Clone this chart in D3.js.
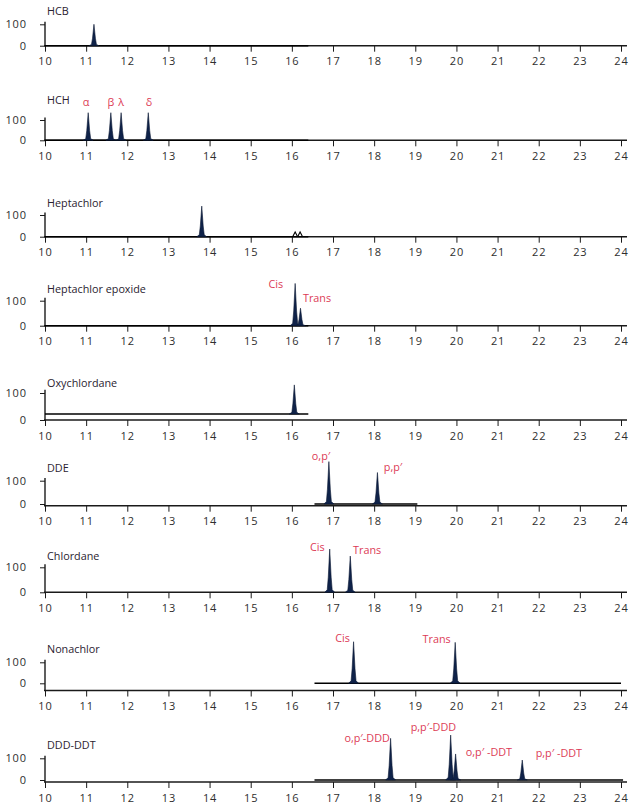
<!DOCTYPE html>
<html><head><meta charset="utf-8">
<script src="https://cdn.jsdelivr.net/npm/d3@7"></script>
<style>
html,body{margin:0;padding:0;background:#fff;}
svg{display:block;}
text{font-family:"Open Sans","Noto Sans",sans-serif;}
</style></head>
<body>
<script>
// ---------- DATA ----------
const panelNames = ["HCB","HCH","Heptachlor","Heptachlor epoxide","Oxychlordane","DDE","Chlordane","Nonachlor","DDD-DDT"];
const xTickLabels = [10,11,12,13,14,15,16,17,18,19,20,21,22,23,24];
const yTickLabels = [0,100];

// peaks: retention time (min), height (relative)
const hcbPeakRt = [11.19];           const hcbPeakH = [100];
const hchPeakRt = [11.05,11.6,11.85,12.51]; const hchPeakH = [136,136,136,136];
const heptPeakRt = [13.81];          const heptPeakH = [141];
const heptNoiseRt = [16.08,16.2];    const heptNoiseH = [22,22];
const epoxPeakRt = [16.08,16.21];    const epoxPeakH = [169,70];
const oxyPeakRt = [16.06];           const oxyPeakH = [130];
const ddePeakRt = [16.9,18.08];      const ddePeakH = [182,135];
const chlPeakRt = [16.92,17.42];     const chlPeakH = [173,145];
const nonaPeakRt = [17.5,19.97];     const nonaPeakH = [198,195];
const dddPeakRt = [18.4,19.86,19.98,21.6]; const dddPeakH = [192,207,120,92];

// baseline traces: [start rt, end rt, level]
const traceStart = [10,10,10,10,10,16.55,null,16.55,16.55];
const traceEnd   = [16.4,16.4,16.4,16.4,16.4,19.05,null,24.0,24.05];
const traceLevel = [0,0,0,0,22,0,null,0,0];

// peak annotations (text, rt, level)
const hchLabels  = ["α","β","λ","δ"];   const hchLabRt = [11.0,11.6,11.85,12.53]; const hchLabV = [189,189,189,189];
const epoxLabels = ["Cis","Trans"];     const epoxLabRt = [15.61,16.27]; const epoxLabV = [167,111];
const ddeLabels  = ["o,p′","p,p′"];     const ddeLabRt = [16.71,18.46]; const ddeLabV = [207,160];
const chlLabels  = ["Cis","Trans"];     const chlLabRt = [16.62,17.83]; const chlLabV = [181,169];
const nonaLabels = ["Cis","Trans"];     const nonaLabRt = [17.23,19.52]; const nonaLabV = [216,211];
const dddLabels  = ["o,p′-DDD","p,p′-DDD","o,p′ -DDT","p,p′ -DDT"]; const dddLabRt = [17.83,19.44,20.79,22.49]; const dddLabV = [194,244,126,124];

const peakRt = [hcbPeakRt,hchPeakRt,heptPeakRt,epoxPeakRt,oxyPeakRt,ddePeakRt,chlPeakRt,nonaPeakRt,dddPeakRt];
const peakH  = [hcbPeakH,hchPeakH,heptPeakH,epoxPeakH,oxyPeakH,ddePeakH,chlPeakH,nonaPeakH,dddPeakH];
const labText = [[],hchLabels,[],epoxLabels,[],ddeLabels,chlLabels,nonaLabels,dddLabels];
const labRt   = [[],hchLabRt,[],epoxLabRt,[],ddeLabRt,chlLabRt,nonaLabRt,dddLabRt];
const labV    = [[],hchLabV,[],epoxLabV,[],ddeLabV,chlLabV,nonaLabV,dddLabV];

// ---------- LAYOUT ----------
const W = 634, H = 808;
const yZero = [45.7,140.3,236.7,325.7,420,504,592.3,683.3,780];
const yHund = [24.3,120,215,300.7,393,480.7,567.3,662.3,758.3];
const axisY = [45.7,140.3,236.7,325.7,420,505.7,592.3,690.5,782];
const titleY = [11,100,203,289,383,468,556,649,745];
const labAnchorFix = [[],["middle","middle","middle","middle"],[],["middle","start"],[],["middle","middle"],["middle","middle"],["middle","middle"],["middle","middle","middle","middle"]];

const svg = d3.select("body").append("svg").attr("width",W).attr("height",H);
const x = d3.scaleLinear().domain([10,24]).range([45,621]);
const minorTicks = d3.range(10, 24.01, 1/6).filter(v => Math.abs(v - Math.round(v)) > 0.01);

const ink = "#1a1a1a", navy = "#0f2249", red = "#dc3a55";

panelNames.forEach((name, i) => {
  const y = d3.scaleLinear().domain([0,100]).range([yZero[i], yHund[i]]);
  const g = svg.append("g");

  // x axis
  const xa = g.append("g").attr("transform", `translate(0,${axisY[i]})`);
  xa.call(d3.axisBottom(x).tickValues(minorTicks).tickFormat("").tickSize(3).tickSizeOuter(0));
  xa.call(d3.axisBottom(x).tickValues(xTickLabels).tickFormat(d3.format("d")).tickSize(6).tickSizeOuter(0).tickPadding(6));
  xa.selectAll("path.domain").remove();
  xa.append("line").attr("x1",44).attr("x2",627).attr("y1",0).attr("y2",0).attr("stroke",ink).attr("stroke-width",1.6);
  xa.selectAll(".tick line").attr("stroke",ink).attr("stroke-width",1);
  xa.selectAll(".tick text").attr("fill","#2e2e2e").style("font-size","11px").style("letter-spacing","0.9px");

  // y axis
  const ya = g.append("g").attr("transform","translate(45,0)");
  ya.call(d3.axisLeft(y).tickValues([20,40,60,80]).tickFormat("").tickSize(3).tickSizeOuter(0));
  ya.call(d3.axisLeft(y).tickValues(yTickLabels).tickFormat(d3.format("d")).tickSize(5).tickSizeOuter(0).tickPadding(13));
  ya.selectAll("path.domain").remove();
  ya.append("line").attr("x1",0).attr("x2",0).attr("y1",y(112)).attr("y2",axisY[i]).attr("stroke",ink).attr("stroke-width",1.4);
  ya.selectAll(".tick line").attr("stroke",ink);
  ya.selectAll(".tick text").attr("fill","#2e2e2e").style("font-size","11px").style("letter-spacing","0.9px");

  // title
  g.append("text").attr("x",47).attr("y",titleY[i]).attr("dy","0.35em")
    .attr("fill","#2a2230").style("font-size","10.8px").text(name);

  // baseline trace
  if (traceStart[i] !== null) {
    g.append("line").attr("x1",x(traceStart[i])).attr("x2",x(traceEnd[i]))
      .attr("y1",y(traceLevel[i])).attr("y2",y(traceLevel[i]))
      .attr("stroke","#000").attr("stroke-width",1.5);
  }
  const base = traceLevel[i] || 0;

  // peaks
  const area = d3.area().x(d => x(d[0])).y0(y(base)).y1(d => y(d[1]));
  peakRt[i].forEach((rt, k) => {
    const h = peakH[i][k];
    const pts = [[rt-0.12,base],[rt-0.06,base+(h-base)*0.06],[rt-0.035,base+(h-base)*0.35],[rt,h],
                 [rt+0.035,base+(h-base)*0.35],[rt+0.06,base+(h-base)*0.06],[rt+0.12,base]];
    g.append("path").attr("d",area(pts)).attr("fill",navy).attr("stroke","#0a1733").attr("stroke-width",0.6);
  });

  // heptachlor noise wiggle
  if (i === 2) {
    const line = d3.line().x(d => x(d[0])).y(d => y(d[1]));
    heptNoiseRt.forEach((rt,k) => {
      const h = heptNoiseH[k];
      g.append("path").attr("d",line([[rt-0.06,0],[rt,h],[rt+0.06,0]]))
        .attr("fill","none").attr("stroke","#000").attr("stroke-width",1.1);
    });
  }

  // annotations
  labText[i].forEach((t,k) => {
    g.append("text").attr("x",x(labRt[i][k])).attr("y",y(labV[i][k])).attr("dy","0.35em")
      .attr("text-anchor",labAnchorFix[i][k] || "middle")
      .attr("fill",red).style("font-size","10.8px").text(t);
  });
});
</script>
</body></html>
